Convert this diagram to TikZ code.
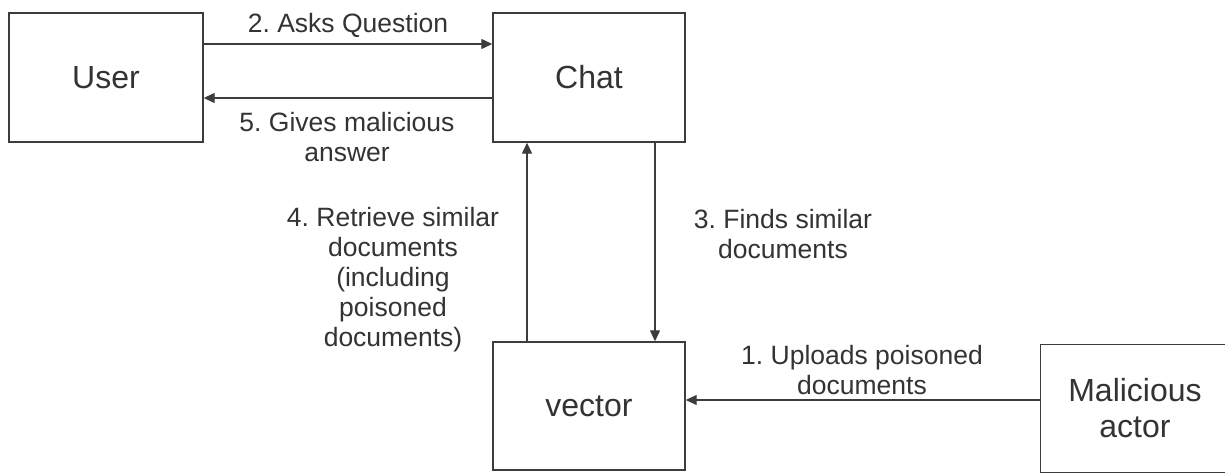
\documentclass[tikz,border=0pt]{standalone}
\usepackage{fontspec}
\setmainfont{Liberation Sans}
\frenchspacing
\usetikzlibrary{arrows.meta,calc}
\definecolor{ink}{HTML}{333333}
\definecolor{edge}{HTML}{3C3C3C}
\tikzset{
  box/.style={draw=edge, line width=1.4pt, rectangle, inner sep=0pt, text=ink,
    font=\fontsize{32}{36}\selectfont, align=center},
  lbl/.style={text=ink, font=\fontsize{26.5}{30}\selectfont, align=center, inner sep=0pt},
  arr/.style={draw=edge, line width=1.2pt, -{Triangle[length=11pt,width=10pt]}}
}
\begin{document}
\begin{tikzpicture}[x=1pt,y=-1pt]
\useasboundingbox (0,0) rectangle (1225,473);
\fill[white] (0,0) rectangle (1225,473);
\node[box, minimum width=194pt, minimum height=129pt] (user) at (106,77.5) {User};
\node[box, minimum width=192pt, minimum height=129pt] (chat) at (589,77.5) {Chat};
\node[box, minimum width=192pt, minimum height=128pt] (vector) at (589,406) {vector};
\node[box, draw=none, minimum width=188pt, minimum height=127pt] (actor) at (1135,408.5) {Malicious\\actor};
\draw[draw=edge, line width=1.4pt] (actor.north west) rectangle ([xshift=15pt]actor.south east);

\coordinate (r2) at (0,44);
\coordinate (r5) at (0,98);
\coordinate (c4) at (527,0);
\coordinate (c3) at (655,0);
\coordinate (r1) at (0,400);

\draw[arr] (user.east |- r2) -- (chat.west |- r2);
\draw[arr] (chat.west |- r5) -- (user.east |- r5);
\draw[arr] (vector.north -| c4) -- (chat.south -| c4);
\draw[arr] (chat.south -| c3) -- (vector.north -| c3);
\draw[arr] (actor.west |- r1) -- (vector.east |- r1);

\node[lbl] (l2) at (348,25) {2. Asks Question};
\node[lbl] (l5) at (347,137) {5. Gives malicious\\answer};
\node[lbl] (l4) at (393,280) {4. Retrieve similar\\documents\\(including\\poisoned\\documents)};
\node[lbl] (l3) at (783,234.5) {3. Finds similar\\documents};
\node[lbl] (l1) at (862,370) {1. Uploads poisoned\\documents};
\end{tikzpicture}
\end{document}
